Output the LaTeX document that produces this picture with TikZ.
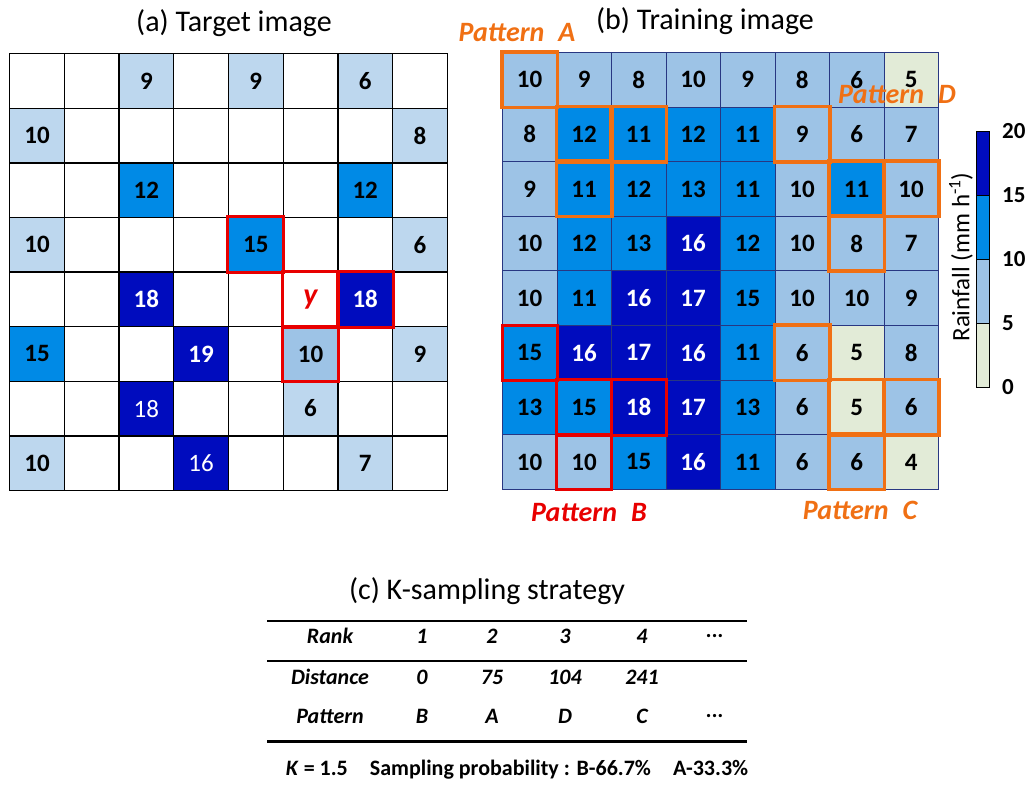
\documentclass[tikz,border=0pt]{standalone}
\usepackage{fontspec}
\setmainfont{Carlito}
\usetikzlibrary{positioning}

\definecolor{rainpale}{RGB}{226,235,215}
\definecolor{rainsoft}{RGB}{189,215,238}
\definecolor{rainlight}{RGB}{157,195,230}
\definecolor{rainmid}{RGB}{0,138,230}
\definecolor{raindark}{RGB}{0,12,190}
\definecolor{pattorange}{RGB}{240,112,20}
\definecolor{pattred}{RGB}{232,0,0}
\definecolor{gridnavy}{RGB}{40,55,130}

\newcommand{\ycell}{\textcolor{pattred}{\fontsize{30}{30}\selectfont\itshape y}}

\tikzset{
  tcell/.style={draw=black, line width=1.3pt, minimum width=54.7pt, minimum height=54.6pt,
    anchor=north west, inner sep=0pt, font=\fontsize{25}{25}\selectfont\bfseries},
  trcell/.style={draw=gridnavy, line width=0.8pt, minimum width=54.5pt, minimum height=54.6pt,
    anchor=north west, inner sep=0pt, font=\fontsize{25}{25}\selectfont\bfseries},
  tgt-w/.style={fill=white},
  tgt-s/.style={fill=rainsoft},
  tgt-l/.style={fill=rainlight},
  tgt-m/.style={fill=rainmid},
  tgt-d/.style={fill=raindark, text=white},
  tgt-n/.style={fill=raindark, text=white, font=\fontsize{25}{25}\selectfont},
  lvl1/.style={fill=rainpale},
  lvl2/.style={fill=rainlight},
  lvl3/.style={fill=rainmid},
  lvl4/.style={fill=raindark, text=white},
  redbox/.style={draw=pattred, line width=3pt},
  orangebox/.style={draw=pattorange, line width=3.5pt},
  pattlabel/.style={font=\fontsize{28}{28}\selectfont\bfseries\itshape},
  title/.style={font=\fontsize{30}{30}\selectfont},
  tabtext/.style={font=\fontsize{22}{22}\selectfont\bfseries\itshape},
  barlabel/.style={anchor=west, font=\fontsize{23}{23}\selectfont\bfseries}
}

\begin{document}
\begin{tikzpicture}[x=1pt, y=-1pt, every node/.style={inner sep=0pt}]
\useasboundingbox (0,0) rectangle (1028,787);

% (a) target image
\node[title] (title-a) at (234,23) {(a) Target image};
\foreach \row [count=\r from 0] in {
    {{}/w,{}/w,9/s,{}/w,9/s,{}/w,6/s,{}/w},
    {10/s,{}/w,{}/w,{}/w,{}/w,{}/w,{}/w,8/s},
    {{}/w,{}/w,12/m,{}/w,{}/w,{}/w,12/m,{}/w},
    {10/s,{}/w,{}/w,{}/w,15/m,{}/w,{}/w,6/s},
    {{}/w,{}/w,18/d,{}/w,{}/w,\ycell/w,18/d,{}/w},
    {15/m,{}/w,{}/w,19/d,{}/w,10/l,{}/w,9/s},
    {{}/w,{}/w,18/n,{}/w,{}/w,6/s,{}/w,{}/w},
    {10/s,{}/w,{}/w,16/n,{}/w,{}/w,7/s,{}/w}}
  \foreach \v/\k [count=\c from 0] in \row
    \node[tcell, tgt-\k] (ta-\r-\c) at ({9+54.7*\c},{53+54.6*\r}) {\v};
\foreach \r/\c in {3/4,4/5,4/6,5/5}
  \draw[redbox] (ta-\r-\c.north west) rectangle (ta-\r-\c.south east);

% (b) training image
\node[title] (title-b) at (705,21) {(b) Training image};
\foreach \row [count=\r from 0] in {
    {10,9,8,10,9,8,6,5},
    {8,12,11,12,11,9,6,7},
    {9,11,12,13,11,10,11,10},
    {10,12,13,16,12,10,8,7},
    {10,11,16,17,15,10,10,9},
    {15,16,17,16,11,6,5,8},
    {13,15,18,17,13,6,5,6},
    {10,10,15,16,11,6,6,4}}
  \foreach \v [count=\c from 0] in \row {
    \pgfmathtruncatemacro\k{1+(\v>5)+(\v>10)+(\v>15)}
    \node[trcell, lvl\k] (tr-\r-\c) at ({502+54.5*\c},{52+54.6*\r}) {\v};
  }
% patterns
\foreach \r/\c in {0/0,1/1,1/2,2/1, 1/5,2/6,2/7,3/6, 5/5,6/6,6/7,7/6}
  \draw[orangebox] (tr-\r-\c.north west) rectangle (tr-\r-\c.south east);
\foreach \r/\c in {5/0,6/1,6/2,7/1}
  \draw[redbox] (tr-\r-\c.north west) rectangle (tr-\r-\c.south east);
\node[pattlabel, text=pattorange] (patt-a) at (517,33) {Pattern\; A};
\node[pattlabel, text=pattorange] (patt-d) at (897,95) {Pattern\; D};
\node[pattlabel, text=pattred] (patt-b) at (589,513) {Pattern\; B};
\node[pattlabel, text=pattorange] (patt-c) at (860,510) {Pattern\; C};

% colour bar
\foreach \i/\col in {0/rainpale,1/rainlight,2/rainmid,3/raindark}
  \draw[black, line width=0.8pt, fill=\col] (976,{387-64*\i}) rectangle ++(13,-64);
\foreach \i in {0,...,4}
  \node[barlabel] (bar-\i) at (1002,{387-64*\i}) {\the\numexpr5*\i\relax};
\node[rotate=90, font=\fontsize{25}{25}\selectfont] (bar-title) at (961,257) {Rainfall (mm h\textsuperscript{-1})};

% (c) K-sampling table
\node[title] (title-c) at (487,591) {(c) K-sampling strategy};
\draw[line width=2.5pt] (267,621) -- (747,621);
\draw[line width=1.3pt] (267,661) -- (747,661);
\draw[line width=3pt] (267,741) -- (747,741);
\foreach \x/\a/\b/\p [count=\i] in {330/Rank/Distance/Pattern, 422/1/0/B, 492/2/75/A, 565/3/104/D, 642/4/241/C} {
  \node[tabtext] (rank-\i) at (\x,636) {\a};
  \node[tabtext] (dist-\i) at (\x,677) {\b};
  \node[tabtext] (patt-\i) at (\x,716) {\p};
}
\node[tabtext] (rank-6) at (715,636) {...};
\node[tabtext] (patt-6) at (715,716) {...};
\node[font=\fontsize{22}{22}\selectfont\bfseries] (k-line) at (517,770)
  {\textit{K} = 1.5\quad Sampling probability : B-66.7\%\quad A-33.3\%};
\end{tikzpicture}
\end{document}
